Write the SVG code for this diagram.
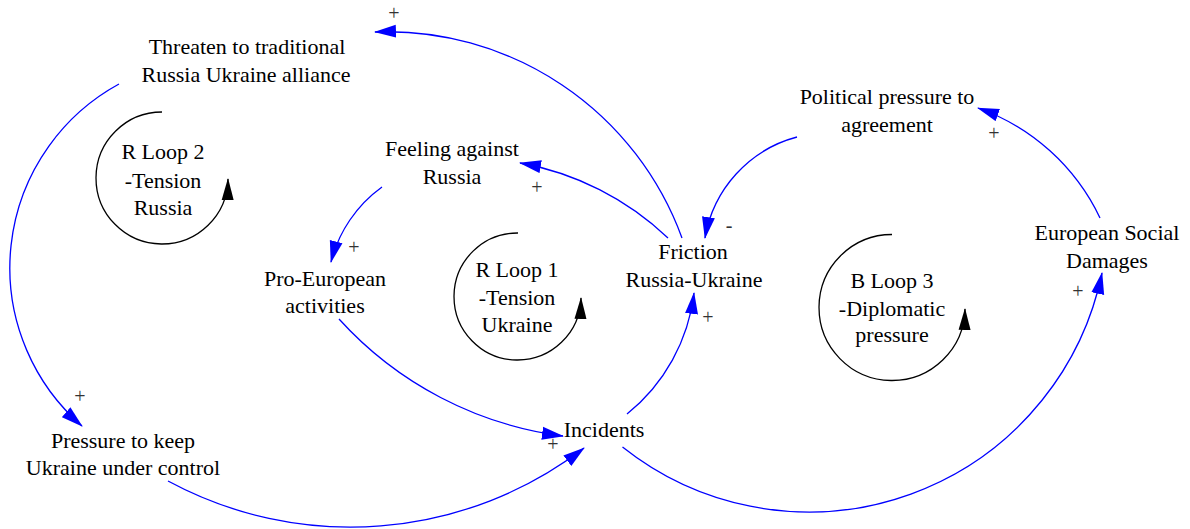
<svg xmlns="http://www.w3.org/2000/svg" width="1190" height="529" viewBox="0 0 1190 529">
<defs>
<style>
.t{font-family:"Liberation Serif","Times New Roman",serif;font-size:22px;fill:#000;text-anchor:middle}
.s{font-family:"Liberation Serif","Times New Roman",serif;font-size:20px;fill:#333;text-anchor:middle}
.e{fill:none;stroke:#0000ff;stroke-width:1.3;marker-end:url(#ab)}
.l{fill:none;stroke:#000;stroke-width:1.3;marker-end:url(#ak)}
</style>
<marker id="ab" markerUnits="userSpaceOnUse" markerWidth="22" markerHeight="14" refX="21" refY="7" orient="auto" viewBox="0 0 22 14"><path d="M0,0.5 L22,7 L0,13.5 Z" fill="#0000ff"/></marker>
<marker id="ak" markerUnits="userSpaceOnUse" markerWidth="22" markerHeight="14" refX="21" refY="7" orient="auto" viewBox="0 0 22 14"><path d="M0,1 L22,7 L0,13 Z" fill="#000"/></marker>
</defs>
<rect width="1190" height="529" fill="#fff"/>
<g id="connectors">
<path class="e" d="M682,238 A313.6,313.6 0 0 0 375,32"/>
<path class="e" d="M668,238 A288,288 0 0 0 520,163"/>
<path class="e" d="M797,137 A126,126 0 0 0 705,238"/>
<path class="e" d="M1100,218 A214.4,214.4 0 0 0 978,108"/>
<path class="e" d="M382,187 A132.7,132.7 0 0 0 331,262"/>
<path class="e" d="M339,319 A365.4,365.4 0 0 0 563,436"/>
<path class="e" d="M168,481 A384,384 0 0 0 584,448"/>
<path class="e" d="M119,84 A209.4,209.4 0 0 0 82,426"/>
<path class="e" d="M627,414 A182.6,182.6 0 0 0 694,293"/>
<path class="e" d="M622.5,447 A299.4,299.4 0 0 0 1102,273"/>
<text class="s" x="394" y="20">+</text>
<text class="s" x="537" y="194">+</text>
<text class="s" x="729" y="232">-</text>
<text class="s" x="994" y="140">+</text>
<text class="s" x="354" y="254">+</text>
<text class="s" x="553" y="451">+</text>
<text class="s" x="80" y="403">+</text>
<text class="s" x="708" y="324">+</text>
<text class="s" x="1078" y="298">+</text>
</g>
<g id="threaten"><text class="t" x="247" y="54">Threaten to traditional</text><text class="t" x="246" y="82">Russia Ukraine alliance</text></g>
<g id="feeling"><text class="t" x="452" y="156">Feeling against</text><text class="t" x="452" y="184">Russia</text></g>
<g id="political"><text class="t" x="887" y="104">Political pressure to</text><text class="t" x="887" y="132">agreement</text></g>
<g id="friction"><text class="t" x="693" y="259">Friction</text><text class="t" x="694" y="287">Russia-Ukraine</text></g>
<g id="european"><text class="t" x="1107" y="240">European Social</text><text class="t" x="1107" y="268">Damages</text></g>
<g id="proeuropean"><text class="t" x="325" y="286">Pro-European</text><text class="t" x="325" y="313">activities</text></g>
<g id="pressure"><text class="t" x="123" y="448">Pressure to keep</text><text class="t" x="123" y="475">Ukraine under control</text></g>
<g id="incidents"><text class="t" x="604" y="437">Incidents</text></g>
<g id="loop2"><path class="l" d="M162,112 A66,66 0 1 0 228,179"/><text class="t" x="163" y="159">R Loop 2</text><text class="t" x="163" y="188">-Tension</text><text class="t" x="163" y="215">Russia</text></g>
<g id="loop1"><path class="l" d="M518,233 A63.5,63.5 0 1 0 581,298"/><text class="t" x="517" y="277">R Loop 1</text><text class="t" x="517" y="305">-Tension</text><text class="t" x="517" y="332">Ukraine</text></g>
<g id="loop3"><path class="l" d="M892,234.5 A73,73 0 1 0 965,309"/><text class="t" x="892" y="288">B Loop 3</text><text class="t" x="892" y="316">-Diplomatic</text><text class="t" x="892" y="342">pressure</text></g>
</svg>
